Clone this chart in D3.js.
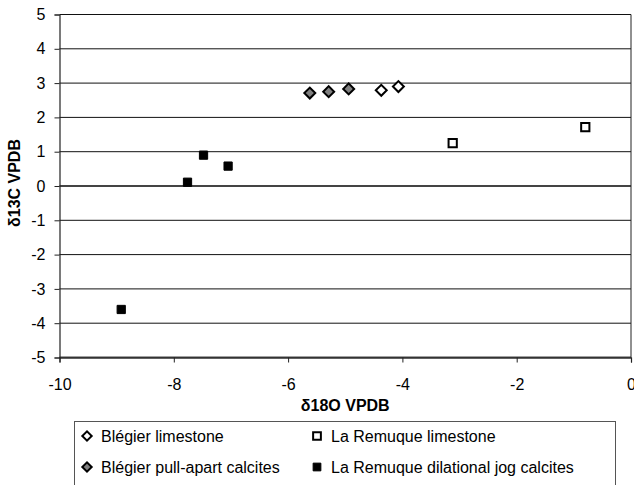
<!DOCTYPE html>
<html>
<head>
<meta charset="utf-8">
<script src="https://cdn.jsdelivr.net/npm/d3@7"></script>
<style>
  body { margin: 0; background: #fff; }
  svg { display: block; font-family: "Liberation Sans", Arial, sans-serif; }
</style>
</head>
<body>
<script>
var width = 634, height = 485;

// data
var blegierLimeX = [-4.37, -4.07];
var blegierLimeY = [2.79, 2.90];
var blegierPullX = [-5.62, -5.29, -4.94];
var blegierPullY = [2.71, 2.75, 2.83];
var remuqueLimeX = [-3.12, -0.80];
var remuqueLimeY = [1.25, 1.72];
var remuqueJogX = [-8.92, -7.76, -7.48, -7.05];
var remuqueJogY = [-3.60, 0.11, 0.90, 0.58];

var xTicks = [-10, -8, -6, -4, -2, 0];
var yTicks = [-5, -4, -3, -2, -1, 0, 1, 2, 3, 4, 5];

var series = [
  { name: "Blégier limestone", xs: blegierLimeX, ys: blegierLimeY, shape: "diamond", fill: "#fff" },
  { name: "La Remuque limestone", xs: remuqueLimeX, ys: remuqueLimeY, shape: "square", fill: "#fff" },
  { name: "Blégier pull-apart calcites", xs: blegierPullX, ys: blegierPullY, shape: "diamond", fill: "#808080" },
  { name: "La Remuque dilational jog calcites", xs: remuqueJogX, ys: remuqueJogY, shape: "square", fill: "#000" }
];

var x = d3.scaleLinear().domain([-10, 0]).range([59.5, 631]);
var y = d3.scaleLinear().domain([-5, 5]).range([357.5, 14.5]);

var svg = d3.select("body").append("svg")
  .attr("width", width)
  .attr("height", height);

// gridlines
svg.append("g")
  .selectAll("line")
  .data(yTicks)
  .enter()
  .append("line")
  .attr("x1", x(-10))
  .attr("x2", x(0))
  .attr("y1", d => y(d))
  .attr("y2", d => y(d))
  .attr("stroke", d => d === 0 || d === -5 ? "#444" : "#111")
  .attr("stroke-width", d => d === 0 || d === -5 ? 2 : 1);

// right border
svg.append("line")
  .attr("x1", x(0)).attr("x2", x(0))
  .attr("y1", y(5)).attr("y2", y(-5))
  .attr("stroke", "#222");

// axes
var yAxis = svg.append("g")
  .attr("transform", "translate(" + x(-10) + ",0)")
  .call(d3.axisLeft(y).tickValues(yTicks).tickSize(5).tickPadding(9).tickFormat(d => String(d)));

var xAxis = svg.append("g")
  .attr("transform", "translate(0," + y(-5) + ")")
  .call(d3.axisBottom(x).tickValues(xTicks).tickSize(5).tickPadding(16).tickFormat(d => String(d)));

[xAxis, yAxis].forEach(function (g) {
  g.select(".domain").attr("stroke", "#222").attr("stroke-width", 1.2);
  g.selectAll(".tick line").attr("stroke", "#222");
  g.selectAll("text")
    .attr("font-family", "Liberation Sans, Arial, sans-serif")
    .attr("font-size", 16)
    .attr("fill", "#000");
});

// axis titles
svg.append("text")
  .attr("x", (x(-10) + x(0)) / 2)
  .attr("y", 411)
  .attr("text-anchor", "middle")
  .attr("font-size", 16)
  .attr("font-weight", "bold")
  .text("δ18O VPDB");

svg.append("text")
  .attr("transform", "translate(20,183) rotate(-90)")
  .attr("text-anchor", "middle")
  .attr("font-size", 16)
  .attr("font-weight", "bold")
  .text("δ13C VPDB");

// markers
function marker(shape) {
  if (shape === "diamond") return d3.symbol().type(d3.symbolSquare).size(60)();
  return d3.symbol().type(d3.symbolSquare).size(68)();
}

series.forEach(function (s) {
  svg.append("g")
    .selectAll("path")
    .data(s.xs.map((v, i) => [v, s.ys[i]]))
    .enter()
    .append("path")
    .attr("d", marker(s.shape))
    .attr("transform", d => "translate(" + x(d[0]) + "," + y(d[1]) + ")" + (s.shape === "diamond" ? " rotate(45)" : ""))
    .attr("fill", s.fill)
    .attr("stroke", "#000")
    .attr("stroke-width", s.fill === "#000" ? 1 : 2);
});

// legend
var legend = svg.append("g");
legend.append("rect")
  .attr("x", 74.5).attr("y", 421.5)
  .attr("width", 541).attr("height", 80)
  .attr("fill", "#fff")
  .attr("stroke", "#555");

var legX = [87, 317], legY = [436, 467];
series.forEach(function (s, i) {
  var cx = legX[i % 2], cy = legY[Math.floor(i / 2)];
  legend.append("path")
    .attr("d", d3.symbol().type(d3.symbolSquare).size(s.shape === "diamond" ? 44 : 60)())
    .attr("transform", "translate(" + cx + "," + cy + ")" + (s.shape === "diamond" ? " rotate(45)" : ""))
    .attr("fill", s.fill)
    .attr("stroke", "#000")
    .attr("stroke-width", s.fill === "#000" ? 1 : 2);
  legend.append("text")
    .attr("x", cx + 14)
    .attr("y", cy)
    .attr("dy", "0.35em")
    .attr("font-size", 16)
    .text(s.name);
});
</script>
</body>
</html>
